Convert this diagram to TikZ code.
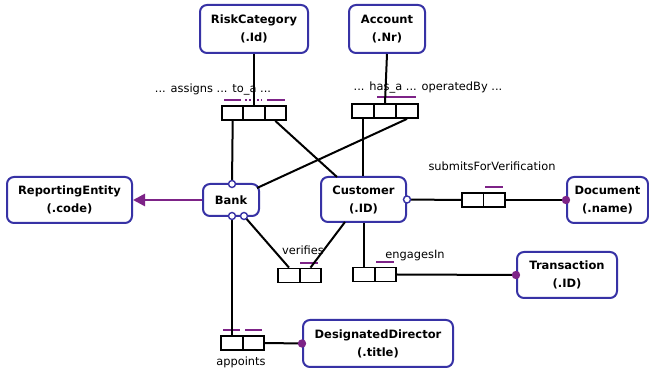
\documentclass[tikz,border=0pt]{standalone}
\usepackage{fontspec}
\setmainfont{DejaVu Sans}
\usetikzlibrary{arrows.meta}
\definecolor{entb}{RGB}{55,50,165}
\definecolor{cons}{RGB}{125,35,135}
\tikzset{
 ent/.style={draw=entb, line width=2pt, rounded corners=7pt, fill=white, align=center, font=\bfseries\fontsize{11.5}{18}\selectfont, inner sep=0pt},
 cell/.style={draw=black, line width=1.8pt, minimum width=21.5pt, minimum height=14pt, inner sep=0pt},
 conn/.style={line width=2pt},
 ucons/.style={draw=cons, line width=1.7pt},
 lbl/.style={font=\fontsize{11.4}{13}\selectfont, inner sep=0pt},
 ring/.style={draw=entb, fill=white, line width=1.4pt},
 dotc/.style={fill=cons},
}
\begin{document}
\begin{tikzpicture}[x=1pt,y=-1pt]
\path[use as bounding box, fill=white] (0,0) rectangle (649,374);
% entities
\node[ent, minimum width=108pt, minimum height=48pt] (rc) at (254,29) {RiskCategory\\(.Id)};
\node[ent, minimum width=76pt, minimum height=48pt] (acc) at (387,29) {Account\\(.Nr)};
\node[ent, minimum width=125pt, minimum height=46pt] (re) at (69.5,200) {ReportingEntity\\(.code)};
\node[ent, minimum width=56pt, minimum height=32pt] (bank) at (231,200) {Bank};
\node[ent, minimum width=85pt, minimum height=45pt] (cust) at (363.5,199.5) {Customer\\(.ID)};
\node[ent, minimum width=81pt, minimum height=46pt] (doc) at (607.5,200) {Document\\(.name)};
\node[ent, minimum width=100pt, minimum height=46pt] (trans) at (567,275) {Transaction\\(.ID)};
\node[ent, minimum width=150pt, minimum height=47pt] (dd) at (378,343.5) {DesignatedDirector\\(.title)};
% fact type cells
\node[cell] (a1) at (232.7,113) {};
\node[cell] (a2) at (254,113) {};
\node[cell] (a3) at (275.3,113) {};
\node[cell] (h1) at (363,111) {};
\node[cell] (h2) at (385,111) {};
\node[cell] (h3) at (407,111) {};
\node[cell] (s1) at (472.75,200) {};
\node[cell] (s2) at (494.25,200) {};
\node[cell] (e1) at (364,274.5) {};
\node[cell] (e2) at (385.5,274.5) {};
\node[cell] (v1) at (289,275.5) {};
\node[cell] (v2) at (310.5,275.5) {};
\node[cell] (p1) at (232,343) {};
\node[cell] (p2) at (253.5,343) {};
% labels
\node[lbl] (la) at (213,90) {... assigns ... to\_a ...};
\node[lbl] (lh) at (428,88) {... has\_a ... operatedBy ...};
\node[lbl] (ls) at (492,166) {submitsForVerification};
\node[lbl] (le) at (415,256) {engagesIn};
\node[lbl] (lv) at (303,250) {verifies};
\node[lbl] (lp) at (241,362) {appoints};
% uniqueness constraints
\draw[ucons] (224,100) -- (241,100);
\draw[ucons, dash pattern=on 2pt off 2pt] (245,100) -- (262,100);
\draw[ucons] (267,100) -- (285,100);
\draw[ucons] (377,97) -- (416,97);
\draw[ucons] (485,187) -- (503,187);
\draw[ucons] (376,262) -- (394,262);
\draw[ucons] (300,263) -- (318,263);
\draw[ucons] (223,330) -- (240,330);
\draw[ucons] (245,330) -- (262,330);
% coordinates on shapes
\coordinate (bt) at (232,184);
\coordinate (bb1) at (232,216);
\coordinate (bb2) at (244,216);
\coordinate (btr) at (257,188);
\coordinate (ctl) at (337,177);
\coordinate (cbl) at (345,222);
% connectors
\draw[conn] (rc.south) -- (a2.north);
\draw[conn] (a1.south) -- (bt);
\draw[conn] (a3.south) -- (ctl);
\draw[conn] (acc.south) -- (h2.north);
\draw[conn] (h1.south) -- (h1.south |- cust.north);
\draw[conn] (h3.south) -- (btr);
\draw[conn] (cust.east) -- (s1.west);
\draw[conn] (s2.east) -- (doc.west);
\draw[conn] (e1.north |- cust.south) -- (e1.north);
\draw[conn] (e2.east) -- (trans.west);
\draw[conn] (bb2) -- (v1.north);
\draw[conn] (cbl) -- (v2.north);
\draw[conn] (bb1) -- (p1.north);
\draw[conn] (p2.east) -- (dd.west);
\draw[draw=cons, line width=2.6pt, -{Triangle[length=12pt,width=12pt]}] (bank.west) -- (re.east);
% role markers
\draw[ring] (bt) circle (3.5pt);
\draw[ring] (bb1) circle (3.5pt);
\draw[ring] (bb2) circle (3.5pt);
\draw[ring] (cust.east) circle (3.5pt);
\fill[dotc] (doc.west) circle (4.2pt);
\fill[dotc] (trans.west) circle (4.2pt);
\fill[dotc] (dd.west) circle (4.2pt);
\end{tikzpicture}
\end{document}
